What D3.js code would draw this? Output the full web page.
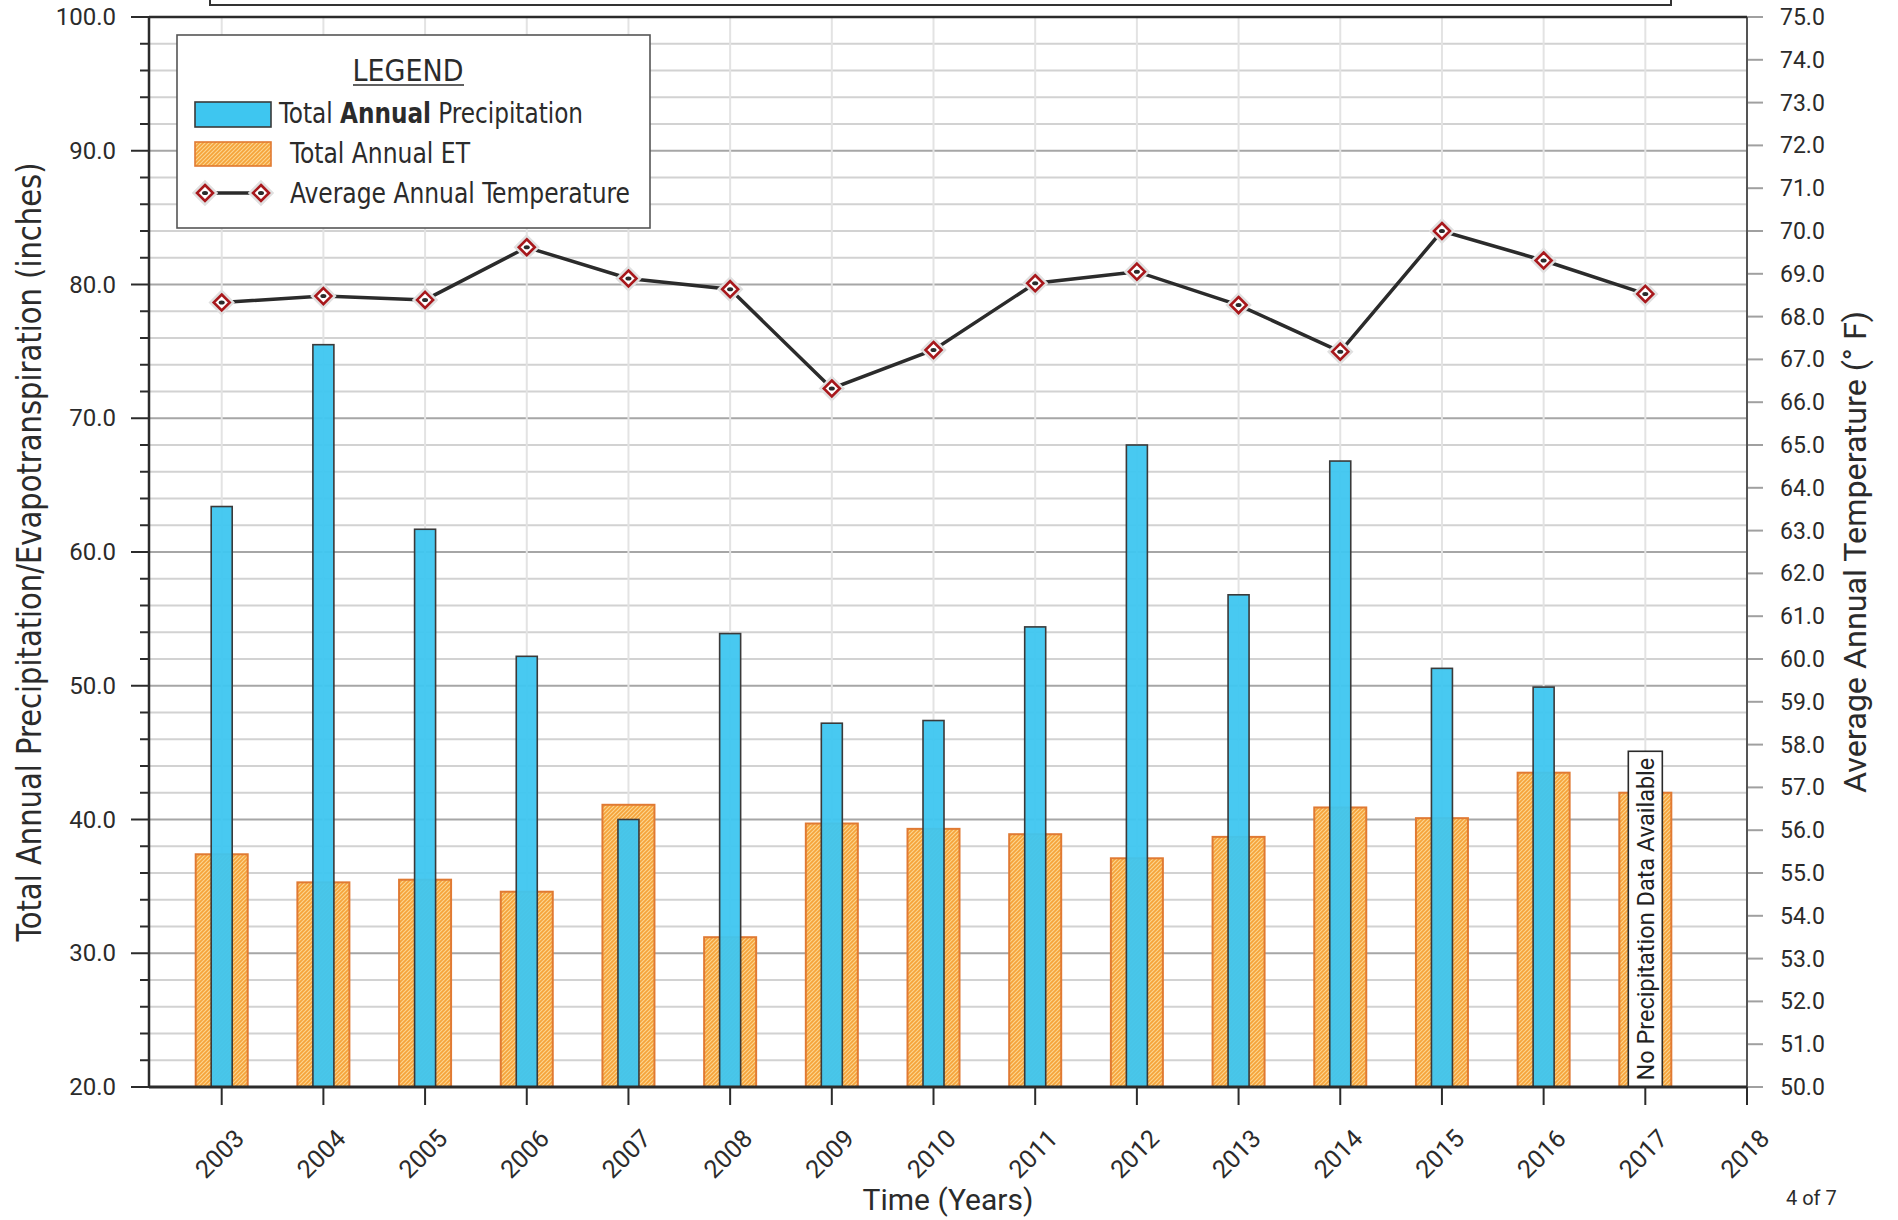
<!DOCTYPE html>
<html>
<head>
<meta charset="utf-8">
<script src="https://cdn.jsdelivr.net/npm/d3@7"></script>
<style>
  body { margin: 0; background: #fff; }
  svg { display: block; font-family: Roboto, "Liberation Sans", sans-serif; }
</style>
</head>
<body>
<main></main>
<script>
//Chart values
const years = [2003, 2004, 2005, 2006, 2007, 2008, 2009, 2010, 2011, 2012, 2013, 2014, 2015, 2016, 2017];
const precip = [63.4, 75.5, 61.7, 52.2, 40.0, 53.9, 47.2, 47.4, 54.4, 68.0, 56.8, 66.8, 51.3, 49.9, null];
const et = [37.4, 35.3, 35.5, 34.6, 41.1, 31.2, 39.7, 39.3, 38.9, 37.1, 38.7, 40.9, 40.1, 43.5, 42.0];
const temps = [68.33, 68.48, 68.39, 69.62, 68.89, 68.64, 66.32, 67.22, 68.78, 69.05, 68.27, 67.18, 70.0, 69.31, 68.53];
const yearTicks = d3.range(2003, 2019);
const leftTicks = d3.range(20, 101, 10);
const rightTicks = d3.range(50, 76, 1);

const svgSize = { width: 1898, height: 1220 };
const plot = { left: 149, right: 1747, top: 17, bottom: 1087 };
const COND = "'Liberation Sans Narrow', 'DejaVu Sans Condensed', 'Roboto', sans-serif";

const svg = d3.select("main")
              .append("svg")
              .attr("width", svgSize.width)
              .attr("height", svgSize.height);

//Scales
const xScale = d3.scaleLinear()
                 .domain([2003 - 0.715, 2018])
                 .range([plot.left, plot.right]);
const yLeft = d3.scaleLinear()
                .domain([20, 100])
                .range([plot.bottom, plot.top]);
const yRight = d3.scaleLinear()
                 .domain([50, 75])
                 .range([plot.bottom, plot.top]);

//Hatch pattern for the ET bars
const defs = svg.append("defs");
const pat = defs.append("pattern")
                .attr("id", "hatch")
                .attr("patternUnits", "userSpaceOnUse")
                .attr("width", 4)
                .attr("height", 4);
pat.append("rect").attr("width", 4).attr("height", 4).attr("fill", "#f5a33a");
pat.append("path")
   .attr("d", "M0,4 L4,0 M-1,1 L1,-1 M3,5 L5,3")
   .attr("stroke", "#fdd58e")
   .attr("stroke-width", 1.2);

//Box cut off at the top of the page
svg.append("rect")
   .attr("x", 210).attr("y", -10)
   .attr("width", 1461).attr("height", 15)
   .attr("fill", "none").attr("stroke", "#333").attr("stroke-width", 2);

//Gridlines
const grid = svg.append("g");
grid.selectAll("line.h")
    .data(d3.range(22, 100, 2))
    .enter()
    .append("line")
    .attr("x1", plot.left).attr("x2", plot.right)
    .attr("y1", (d) => yLeft(d)).attr("y2", (d) => yLeft(d))
    .attr("stroke", (d) => d % 10 === 0 ? "#a6a6a6" : "#d2d2d2")
    .attr("stroke-width", 2);
grid.selectAll("line.v")
    .data(years)
    .enter()
    .append("line")
    .attr("x1", (d) => xScale(d)).attr("x2", (d) => xScale(d))
    .attr("y1", plot.top).attr("y2", plot.bottom)
    .attr("stroke", "#e3e3e3")
    .attr("stroke-width", 2);

//ET bars
svg.selectAll("rect.et")
   .data(et)
   .enter()
   .append("rect")
   .attr("class", "et")
   .attr("x", (d, i) => xScale(years[i]) - 26)
   .attr("y", (d) => yLeft(d))
   .attr("width", 52)
   .attr("height", (d) => plot.bottom - yLeft(d))
   .attr("fill", "url(#hatch)")
   .attr("stroke", "#e07a33")
   .attr("stroke-width", 2);

//Precipitation bars
svg.selectAll("rect.precip")
   .data(precip.map((d, i) => ({ year: years[i], value: d })).filter((d) => d.value !== null))
   .enter()
   .append("rect")
   .attr("class", "precip")
   .attr("x", (d) => xScale(d.year) - 10.5)
   .attr("y", (d) => yLeft(d.value))
   .attr("width", 21)
   .attr("height", (d) => plot.bottom - yLeft(d.value))
   .attr("fill", "#3ec6f0")
   .attr("fill-opacity", 0.95)
   .attr("stroke", "#3a3a3a")
   .attr("stroke-width", 1.6);

//Note on 2017
const noteX = xScale(2017);
svg.append("rect")
   .attr("x", noteX - 17).attr("y", yLeft(45.1))
   .attr("width", 34).attr("height", plot.bottom - yLeft(45.1))
   .attr("fill", "#fff").attr("stroke", "#2a2a2a").attr("stroke-width", 1.6);
svg.append("text")
   .attr("transform", `translate(${noteX + 8.5}, ${(yLeft(45.1) + plot.bottom) / 2}) rotate(-90)`)
   .attr("text-anchor", "middle")
   .attr("font-size", 23.5)
   .attr("fill", "#222")
   .text("No Precipitation Data Available");

//Temperature line
const line = d3.line()
               .x((d, i) => xScale(years[i]))
               .y((d) => yRight(d));
svg.append("path")
   .datum(temps)
   .attr("d", line)
   .attr("fill", "none")
   .attr("stroke", "#2b2b2b")
   .attr("stroke-width", 3.5);

const drawMarker = (g, x, y) => {
  g.append("path")
   .attr("d", `M${x},${y - 9} L${x + 9},${y} L${x},${y + 9} L${x - 9},${y} Z`)
   .attr("fill", "#fff")
   .attr("stroke", "#e0e0e0")
   .attr("stroke-width", 6);
  g.append("path")
   .attr("d", `M${x},${y - 8} L${x + 8},${y} L${x},${y + 8} L${x - 8},${y} Z`)
   .attr("fill", "#fff")
   .attr("stroke", "#a8181c")
   .attr("stroke-width", 2.6);
  g.append("ellipse")
   .attr("cx", x).attr("cy", y)
   .attr("rx", 3).attr("ry", 2)
   .attr("fill", "#2b2b2b");
};
const markers = svg.append("g");
temps.forEach((d, i) => drawMarker(markers, xScale(years[i]), yRight(d)));

//Left axis
const leftAxis = svg.append("g");
leftAxis.selectAll("line.minor")
        .data(d3.range(20, 101, 2))
        .enter()
        .append("line")
        .attr("x1", (d) => d % 10 === 0 ? plot.left - 18 : plot.left - 9)
        .attr("x2", plot.left)
        .attr("y1", (d) => yLeft(d)).attr("y2", (d) => yLeft(d))
        .attr("stroke", "#2b2b2b")
        .attr("stroke-width", 2);
leftAxis.selectAll("text")
        .data(leftTicks)
        .enter()
        .append("text")
        .attr("x", 116)
        .attr("y", (d) => yLeft(d) + 8)
        .attr("text-anchor", "end")
        .attr("font-size", 24)
        .attr("fill", "#2b2b2b")
        .text((d) => d.toFixed(1));
leftAxis.append("line")
        .attr("x1", plot.left).attr("x2", plot.left)
        .attr("y1", plot.top).attr("y2", plot.bottom)
        .attr("stroke", "#2b2b2b").attr("stroke-width", 2.5);

//Right axis
const rightAxis = svg.append("g");
rightAxis.selectAll("line")
         .data(rightTicks)
         .enter()
         .append("line")
         .attr("x1", plot.right).attr("x2", plot.right + 16)
         .attr("y1", (d) => yRight(d)).attr("y2", (d) => yRight(d))
         .attr("stroke", "#a0a0a0")
         .attr("stroke-width", 2);
rightAxis.selectAll("text")
         .data(rightTicks)
         .enter()
         .append("text")
         .attr("x", 1780)
         .attr("y", (d) => yRight(d) + 8)
         .attr("font-size", 23)
         .attr("fill", "#2b2b2b")
         .text((d) => d.toFixed(1));
rightAxis.append("line")
         .attr("x1", plot.right).attr("x2", plot.right)
         .attr("y1", plot.top).attr("y2", plot.bottom + 17)
         .attr("stroke", "#555").attr("stroke-width", 2);

//Top border and bottom axis
svg.append("line")
   .attr("x1", plot.left).attr("x2", plot.right)
   .attr("y1", plot.top).attr("y2", plot.top)
   .attr("stroke", "#2b2b2b").attr("stroke-width", 2.5);
svg.append("line")
   .attr("x1", plot.left).attr("x2", plot.right)
   .attr("y1", plot.bottom).attr("y2", plot.bottom)
   .attr("stroke", "#2b2b2b").attr("stroke-width", 3);
svg.selectAll("line.xtick")
   .data(yearTicks)
   .enter()
   .append("line")
   .attr("x1", (d) => xScale(d)).attr("x2", (d) => xScale(d))
   .attr("y1", plot.bottom).attr("y2", plot.bottom + 18)
   .attr("stroke", "#2b2b2b")
   .attr("stroke-width", 2);
svg.selectAll("text.year")
   .data(yearTicks)
   .enter()
   .append("text")
   .attr("transform", (d) => `translate(${xScale(d) + 4}, ${1160}) rotate(-45)`)
   .attr("text-anchor", "middle")
   .attr("font-size", 25)
   .attr("fill", "#2b2b2b")
   .text((d) => d);

//Axis titles
svg.append("text")
   .attr("transform", `translate(41, 552) rotate(-90)`)
   .attr("text-anchor", "middle")
   .attr("font-family", COND)
   .attr("font-stretch", "condensed")
   .attr("font-size", 34)
   .attr("textLength", 779)
   .attr("lengthAdjust", "spacingAndGlyphs")
   .attr("fill", "#2b2b2b")
   .text("Total Annual Precipitation/Evapotranspiration (inches)");
svg.append("text")
   .attr("transform", `translate(1866, 552) rotate(-90)`)
   .attr("text-anchor", "middle")
   .attr("font-size", 32)
   .attr("textLength", 482)
   .attr("lengthAdjust", "spacingAndGlyphs")
   .attr("fill", "#2b2b2b")
   .text("Average Annual Temperature (° F)");
svg.append("text")
   .attr("x", 948).attr("y", 1210)
   .attr("text-anchor", "middle")
   .attr("font-size", 30)
   .attr("fill", "#2b2b2b")
   .text("Time (Years)");
svg.append("text")
   .attr("x", 1786).attr("y", 1205)
   .attr("font-size", 20)
   .attr("fill", "#2b2b2b")
   .text("4 of 7");

//Legend
const legend = svg.append("g");
legend.append("rect")
      .attr("x", 177).attr("y", 35)
      .attr("width", 473).attr("height", 193)
      .attr("fill", "#fff").attr("stroke", "#555").attr("stroke-width", 1.6);
legend.append("text")
      .attr("x", 408).attr("y", 81)
      .attr("text-anchor", "middle")
      .attr("font-family", COND).attr("font-stretch", "condensed")
      .attr("font-size", 30)
      .attr("textLength", 111).attr("lengthAdjust", "spacingAndGlyphs")
      .attr("fill", "#2b2b2b")
      .text("LEGEND");
legend.append("line")
      .attr("x1", 353).attr("x2", 464)
      .attr("y1", 85).attr("y2", 85)
      .attr("stroke", "#2b2b2b").attr("stroke-width", 1.5);
legend.append("rect")
      .attr("x", 195).attr("y", 102).attr("width", 76).attr("height", 25)
      .attr("fill", "#3ec6f0").attr("stroke", "#3a3a3a").attr("stroke-width", 1.6);
legend.append("rect")
      .attr("x", 195).attr("y", 142).attr("width", 76).attr("height", 24)
      .attr("fill", "url(#hatch)").attr("stroke", "#e07a33").attr("stroke-width", 1.6);
legend.append("line")
      .attr("x1", 205).attr("x2", 261).attr("y1", 193).attr("y2", 193)
      .attr("stroke", "#2b2b2b").attr("stroke-width", 3.5);
drawMarker(legend, 205, 193);
drawMarker(legend, 261, 193);

const legendText = (x, y, len) => legend.append("text")
      .attr("x", x).attr("y", y)
      .attr("font-family", COND).attr("font-stretch", "condensed")
      .attr("font-size", 28)
      .attr("textLength", len).attr("lengthAdjust", "spacingAndGlyphs")
      .attr("fill", "#2b2b2b");
const t1 = legendText(279, 123, 304);
t1.append("tspan").text("Total ");
t1.append("tspan").attr("font-weight", 600).text("Annual");
t1.append("tspan").text(" Precipitation");
legendText(290, 163, 180).text("Total Annual ET");
legendText(290, 203, 340).text("Average Annual Temperature");
</script>
</body>
</html>
